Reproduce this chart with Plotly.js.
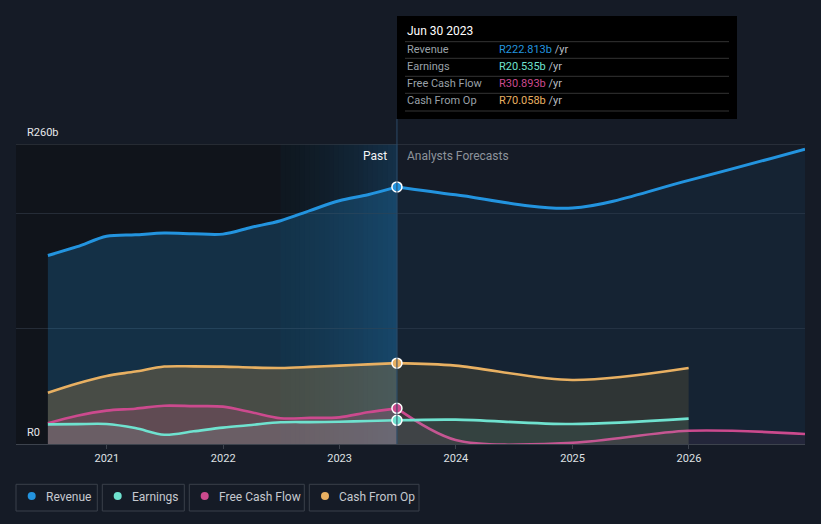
<!DOCTYPE html>
<html>
<head>
<meta charset="utf-8">
<script src="https://cdn.plot.ly/plotly-3.0.1.min.js"></script>
<style>
  html, body { margin: 0; padding: 0; background: #151b26; }
  #chart { width: 821px; height: 524px; }
</style>
</head>
<body>
<div id="chart"></div>
<script>
// ---------- DATA ----------
const pastDates = ["2020-06-30","2020-09-30","2020-12-31","2021-03-31","2021-06-30","2021-09-30","2021-12-31","2022-03-31","2022-06-30","2022-09-30","2022-12-31","2023-03-31","2023-06-30"];
const revenuePast  = [163.4, 171.0, 180.0, 181.3, 182.8, 182.2, 181.9, 187.8, 193.5, 202.3, 210.8, 216.0, 222.813];
const earningsPast = [17.0, 17.2, 17.3, 13.8, 8.0, 11.0, 14.2, 16.5, 18.8, 19.0, 19.3, 19.9, 20.535];
const fcfPast      = [18.0, 24.5, 28.9, 30.6, 33.2, 32.8, 32.4, 27.5, 22.3, 22.6, 23.1, 27.5, 30.893];
const cfoPast      = [44.5, 52.5, 59.0, 62.8, 67.1, 67.3, 67.1, 66.3, 65.9, 66.8, 67.9, 69.0, 70.058];

const fcDatesLong  = ["2023-06-30","2023-12-31","2024-12-31","2025-12-31","2026-12-31"];
const fcDatesShort = ["2023-06-30","2023-12-31","2024-12-31","2025-12-31"];
const revenueFc  = [222.813, 216.0, 204.5, 228.5, 255.6];
const fcfFc      = [30.893, 3.5, 1.1, 11.5, 8.7];
const earningsFc = [20.535, 21.1, 17.3, 22.0];
const cfoFc      = [70.058, 67.9, 55.5, 65.9];

const seriesNames = ["Revenue", "Earnings", "Free Cash Flow", "Cash From Op"];
const tooltipDate = "Jun 30 2023";
const tooltipValues = ["R222.813b", "R20.535b", "R30.893b", "R70.058b"];
const yTickLabels = ["R0", "R260b"];
const yTickValues = [0, 260];
const gridValues = [100, 200];

const highlightStart = "2022-06-30";
const divider = "2023-06-30";
const xRange = ["2020-03-22", "2026-12-31"];

// ---------- STYLE ----------
const C = {
  revenue: "#2394df",
  earnings: "#6fe2cf",
  fcf: "#cc4a8e",
  cfo: "#e8b062"
};
const FONT = "Roboto, 'Open Sans', sans-serif";
const L = 16, T = 144, W = 789, H = 300;
const px = x => (x - L) / W;
const py = y => (T + H - y) / H;

function line(x, y, color, fill, width, name) {
  return {
    x: x, y: y, type: "scatter", mode: "lines", name: name,
    line: { color: color, width: width || 2.6, shape: "spline", smoothing: 0.9 },
    fill: "tozeroy", fillcolor: fill, hoverinfo: "skip", showlegend: false
  };
}

const traces = [
  line(pastDates, revenuePast, C.revenue, "rgba(35,148,223,0.22)", 3, "Revenue"),
  line(fcDatesLong, revenueFc, C.revenue, "rgba(35,148,223,0.07)", 3, "Revenue"),
  line(pastDates, cfoPast, C.cfo, "rgba(150,120,70,0.40)", 2.6, "Cash From Op"),
  line(fcDatesShort, cfoFc, C.cfo, "rgba(110,95,60,0.30)", 2.6, "Cash From Op"),
  line(pastDates, fcfPast, C.fcf, "rgba(204,74,142,0.18)", 2.6, "Free Cash Flow"),
  line(fcDatesLong, fcfFc, C.fcf, "rgba(204,74,142,0.08)", 2.6, "Free Cash Flow"),
  line(pastDates, earningsPast, C.earnings, "rgba(160,200,200,0.16)", 2.6, "Earnings"),
  line(fcDatesShort, earningsFc, C.earnings, "rgba(110,226,207,0.08)", 2.6, "Earnings"),
];

// markers at the divider
const lastVals = [revenuePast, earningsPast, fcfPast, cfoPast].map(a => a[a.length - 1]);
const mColors = [C.revenue, C.earnings, C.fcf, C.cfo];
traces.push({
  x: lastVals.map(() => divider), y: lastVals, type: "scatter", mode: "markers",
  marker: { size: 10, color: mColors, line: { color: "#ffffff", width: 1.5 } },
  hoverinfo: "skip", showlegend: false
});

// ---------- SHAPES ----------
const shapes = [];
// dark past region
shapes.push({ type: "rect", xref: "x", yref: "paper", x0: xRange[0], x1: highlightStart, y0: 0, y1: 1,
  fillcolor: "#10141b", line: { width: 0 }, layer: "below" });
// gradient highlight
const t0 = new Date(highlightStart + "T00:00:00Z").getTime();
const t1 = new Date(divider + "T00:00:00Z").getTime();
const N = 24;
const cA = [15, 24, 33], cB = [20, 48, 72];
const iso = t => new Date(t).toISOString().slice(0, 19).replace("T", " ");
for (let i = 0; i < N; i++) {
  const f = i / (N - 1);
  const col = "rgb(" + cA.map((v, k) => Math.round(v + (cB[k] - v) * Math.pow(f, 1.4))).join(",") + ")";
  shapes.push({ type: "rect", xref: "x", yref: "paper",
    x0: iso(t0 + (t1 - t0) * i / N), x1: iso(t0 + (t1 - t0) * (i + 1) / N + 86400000 * 2),
    y0: 0, y1: 1, fillcolor: col, line: { width: 0 }, layer: "below" });
}
// top line at 260
shapes.push({ type: "line", xref: "paper", yref: "y", x0: 0, x1: 1, y0: 260, y1: 260,
  line: { color: "#3d434d", width: 1.2 }, layer: "above" });
// divider line
shapes.push({ type: "line", xref: "x", yref: "paper", x0: divider, x1: divider, y0: 0, y1: py(119),
  line: { color: "#2c4a68", width: 1 }, layer: "above" });
// tooltip box
shapes.push({ type: "rect", xref: "paper", yref: "paper", x0: px(397), x1: px(737), y0: py(119), y1: py(16),
  fillcolor: "#000000", line: { width: 0 }, layer: "above" });
[41.7, 58.3, 76.3, 93.3, 111].forEach(y => {
  shapes.push({ type: "line", xref: "paper", yref: "paper", x0: px(405), x1: px(729), y0: py(y), y1: py(y),
    line: { color: "#343434", width: 1 }, layer: "above" });
});
// legend boxes
const legBoxes = [[16, 97.3], [102.3, 184.3], [189.3, 304.3], [309.3, 419]];
const legDots = [31.7, 117.7, 204.7, 325];
const legText = [44.3, 130, 217.3, 337.3];
const legColors = [C.revenue, C.earnings, C.fcf, C.cfo];
legBoxes.forEach((b, i) => {
  shapes.push({ type: "rect", xref: "paper", yref: "paper", x0: px(b[0]), x1: px(b[1]), y0: py(511), y1: py(484.3),
    fillcolor: "rgba(0,0,0,0)", line: { color: "#3a404a", width: 1 }, layer: "above" });
  shapes.push({ type: "circle", xref: "paper", yref: "paper", x0: px(legDots[i] - 4), x1: px(legDots[i] + 4),
    y0: py(500), y1: py(492), fillcolor: legColors[i], line: { width: 0 }, layer: "above" });
});

// ---------- ANNOTATIONS ----------
const ann = [];
function txt(x, y, text, size, color, anchor) {
  ann.push({ xref: "paper", yref: "paper", x: px(x), y: py(y), text: text, showarrow: false,
    xanchor: anchor || "left", yanchor: "middle", font: { family: FONT, size: size, color: color } });
}
// y labels
ann.push({ xref: "paper", yref: "y", x: px(25), y: yTickValues[1], yanchor: "bottom", xanchor: "left", yshift: 3,
  text: yTickLabels[1], showarrow: false, font: { family: FONT, size: 11, color: "#e6e8eb" } });
ann.push({ xref: "paper", yref: "y", x: px(25), y: yTickValues[0], yanchor: "bottom", xanchor: "left", yshift: 3,
  text: yTickLabels[0], showarrow: false, font: { family: FONT, size: 11, color: "#e6e8eb" } });
// past / forecast
txt(388.5, 156, "Past", 12, "#f2f3f5", "right");
txt(405, 156, "Analysts Forecasts", 12, "#8d939b", "left");
// tooltip
txt(405, 31, tooltipDate, 12, "#ffffff", "left");
const rowY = [49.3, 66, 83.7, 100.7];
seriesNames.forEach((n, i) => {
  txt(405, rowY[i], n, 11, "#9aa0a8", "left");
  txt(497, rowY[i], "<span style='color:" + mColors[i] + "'>" + tooltipValues[i] + "</span> /yr", 11, "#b8bcc2", "left");
});
// legend text
seriesNames.forEach((n, i) => txt(legText[i], 497.5, n, 12, "#c5c9cf", "left"));

const layout = {
  width: 821, height: 524,
  margin: { l: L, r: 821 - L - W, t: T, b: 524 - T - H, pad: 0 },
  paper_bgcolor: "#151b26", plot_bgcolor: "#151b26",
  showlegend: false,
  font: { family: FONT },
  xaxis: {
    type: "date", range: xRange, tick0: "2021-01-01", dtick: "M12", tickformat: "%Y",
    showgrid: false, zeroline: false, showline: true, linecolor: "#3d434d", linewidth: 1.2,
    ticks: "outside", ticklen: 4, tickcolor: "#3d434d",
    tickfont: { family: FONT, size: 11, color: "#dfe1e4" }, fixedrange: true
  },
  yaxis: {
    range: [0, 260], tickvals: gridValues, showticklabels: false, showgrid: true,
    gridcolor: "#252c37", gridwidth: 1, zeroline: false, fixedrange: true
  },
  shapes: shapes,
  annotations: ann
};

Plotly.newPlot("chart", traces, layout, { displayModeBar: false, staticPlot: true });
</script>
</body>
</html>
